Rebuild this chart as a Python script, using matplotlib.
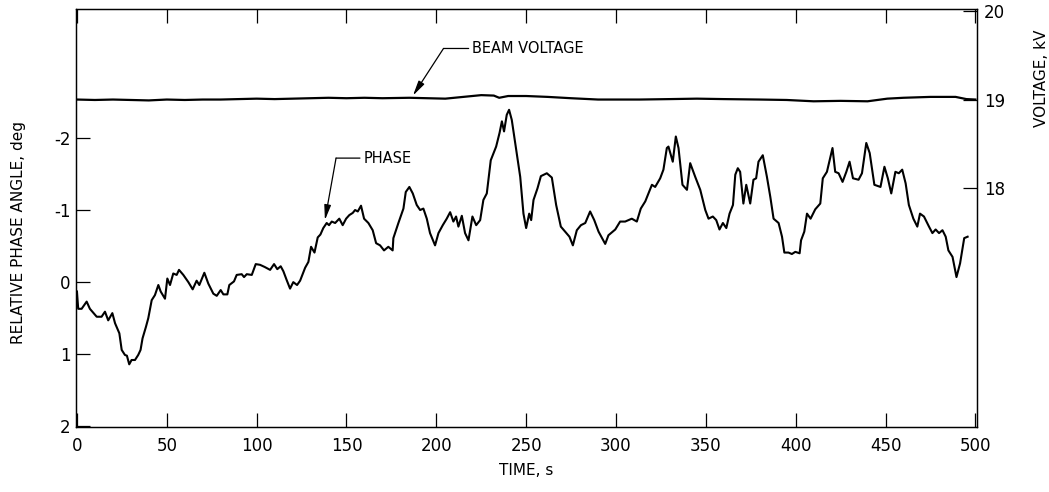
"""
plot.py

Beam voltage and relative phase angle versus time, redrawn from a scanned
strip-chart figure.
"""

import matplotlib
matplotlib.use("Agg")
import matplotlib.pyplot as plt

# --- data --------------------------------------------------------------------
time_ticks = [0, 50, 100, 150, 200, 250, 300, 350, 400, 450, 500]
phase_ticks = [-2, -1, 0, 1, 2]
voltage_ticks = [18, 19, 20]

# (time s, relative phase angle deg)
phase_trace = [
    (0, 0.13), (0.7, 0.37), (2.6, 0.37), (5.4, 0.27), (7.2, 0.37), (11, 0.48),
    (13.7, 0.48), (15.6, 0.41), (17.4, 0.53), (19.7, 0.43), (21.2, 0.57),
    (23.6, 0.71), (24.9, 0.94), (26.7, 1.01), (27.8, 1.02), (29.1, 1.14),
    (30.4, 1.08), (32.3, 1.08), (34.1, 1.01), (35.4, 0.94), (36.5, 0.78),
    (38.4, 0.62), (39.7, 0.50), (41.6, 0.25), (43.4, 0.18), (45.3, 0.04),
    (46.6, 0.13), (49, 0.23), (50.3, -0.05), (51.8, 0.04), (53.6, -0.12),
    (55.5, -0.10), (56.8, -0.17), (59.2, -0.10), (62, 0.0), (64.4, 0.10),
    (66.6, -0.02), (68.1, 0.04), (70.9, -0.13), (73.1, 0.02), (75.9, 0.16),
    (77.8, 0.19), (80, 0.11), (81.5, 0.17), (83.7, 0.17), (84.8, 0.04),
    (87.4, -0.01), (88.9, -0.10), (91.7, -0.11), (93, -0.07), (94.5, -0.11),
    (97.3, -0.10), (99.5, -0.25), (101.9, -0.24), (104.5, -0.21),
    (107.5, -0.17), (109.7, -0.25), (111.5, -0.18), (113.4, -0.22),
    (114.9, -0.15), (116.7, -0.03), (118.6, 0.09), (120.4, 0.0), (122.5, 0.04),
    (124.2, -0.02), (127, -0.20), (128.8, -0.28), (130.3, -0.49),
    (132.2, -0.41), (134, -0.62), (135.5, -0.66), (137.1, -0.75), (139, -0.82),
    (140.3, -0.79), (141.8, -0.84), (143.7, -0.82), (146, -0.88),
    (147.9, -0.79), (149.8, -0.88), (151.6, -0.93), (153.5, -0.96),
    (154.8, -1.0), (156.3, -0.98), (158.1, -1.06), (159.8, -0.88),
    (162.2, -0.82), (164.6, -0.72), (166.5, -0.54), (168.7, -0.51),
    (170.9, -0.44), (173.3, -0.49), (175.7, -0.44), (176.1, -0.61),
    (178.9, -0.82), (181.7, -1.02), (183, -1.25), (185, -1.32), (186.9, -1.23),
    (189.1, -1.07), (191, -1.0), (192.8, -1.02), (194.7, -0.88), (196.5, -0.68),
    (199.3, -0.51), (201.2, -0.68), (203.6, -0.79), (205.8, -0.88),
    (207.7, -0.97), (209.5, -0.84), (211, -0.91), (212.3, -0.77),
    (214.2, -0.92), (216, -0.68), (217.9, -0.58), (220.1, -0.91),
    (222.2, -0.79), (224.4, -0.86), (226.2, -1.14), (228.1, -1.23),
    (230.3, -1.69), (233.3, -1.88), (235.2, -2.07), (236.5, -2.23),
    (237.7, -2.09), (239.2, -2.32), (240.5, -2.39), (242, -2.25),
    (243.9, -1.93), (246.7, -1.46), (248.5, -0.95), (250, -0.75),
    (251.7, -0.95), (252.8, -0.86), (254.1, -1.14), (256.3, -1.30),
    (258.2, -1.47), (261.5, -1.51), (264.3, -1.45), (266.7, -1.07),
    (269.3, -0.77), (271.7, -0.70), (274.1, -0.63), (276, -0.51),
    (278.2, -0.72), (280.5, -0.79), (282.9, -0.82), (285.6, -0.98),
    (287.9, -0.86), (290.3, -0.70), (294, -0.53), (295.8, -0.65),
    (299.6, -0.73), (302.3, -0.84), (305.1, -0.84), (308.8, -0.88),
    (311.6, -0.84), (313.8, -1.02), (316.3, -1.12), (320, -1.35),
    (321.8, -1.32), (324.6, -1.44), (326.4, -1.56), (328.3, -1.86),
    (329.2, -1.88), (331.6, -1.67), (333.3, -2.02), (334.8, -1.86),
    (337, -1.35), (339.5, -1.28), (341.3, -1.65), (344.1, -1.46),
    (346.9, -1.28), (349.7, -1.0), (351.5, -0.88), (353.9, -0.91),
    (355.8, -0.86), (357.6, -0.73), (359.5, -0.82), (361.4, -0.75),
    (363.2, -0.95), (365.1, -1.07), (366.4, -1.49), (367.8, -1.58),
    (369.1, -1.53), (370.9, -1.09), (372.5, -1.35), (374.7, -1.09),
    (376.5, -1.42), (378, -1.44), (379.3, -1.67), (381.7, -1.76), (384, -1.46),
    (385.9, -1.18), (387.7, -0.88), (390.5, -0.82), (392.4, -0.63),
    (393.7, -0.41), (396, -0.41), (397.9, -0.39), (399.8, -0.42),
    (402.2, -0.40), (403, -0.58), (404.8, -0.70), (406.3, -0.95),
    (408.3, -0.88), (410.9, -1.01), (413.7, -1.09), (415.1, -1.44),
    (417.4, -1.53), (420.5, -1.86), (422, -1.53), (423.9, -1.51),
    (426.1, -1.39), (428.2, -1.53), (430, -1.67), (431.9, -1.44), (435, -1.42),
    (436.9, -1.51), (439.3, -1.93), (441.2, -1.79), (443.8, -1.35),
    (447.2, -1.32), (449.4, -1.60), (451.3, -1.44), (453.2, -1.23),
    (455.5, -1.53), (457.4, -1.51), (459.3, -1.56), (461.2, -1.37),
    (463, -1.07), (465.5, -0.88), (467.7, -0.77), (469.2, -0.95),
    (471.4, -0.91), (474.2, -0.77), (476.1, -0.68), (477.9, -0.73),
    (479.8, -0.68), (481.7, -0.72), (483.5, -0.63), (485, -0.44),
    (487.3, -0.35), (489.5, -0.07), (491.5, -0.26), (493.8, -0.61),
    (495.7, -0.63),
]

# (time s, beam voltage kV)
voltage_trace = [
    (0, 19.00), (10, 18.995), (20, 19.00), (30, 18.995), (40, 18.99),
    (50, 19.0), (60, 18.995), (70, 19.0), (80, 19.0), (90, 19.005),
    (100, 19.01), (110, 19.005), (120, 19.01), (130, 19.015), (140, 19.02),
    (150, 19.015), (160, 19.02), (170, 19.015), (185, 19.02), (195, 19.015),
    (205, 19.01), (215, 19.03), (225, 19.05), (232, 19.045), (235, 19.02),
    (240, 19.04), (250, 19.04), (262, 19.03), (275, 19.015), (290, 19.0),
    (313, 19.0), (330, 19.005), (345, 19.01), (360, 19.005), (380, 19.0),
    (395, 18.995), (410, 18.98), (425, 18.985), (440, 18.98), (451, 19.01),
    (460, 19.02), (475, 19.03), (489, 19.03), (495, 19.005), (500, 19.0),
]

phase_t, phase_deg = zip(*phase_trace)
volt_t, volt_kv = zip(*voltage_trace)

plt.rcParams["font.family"] = "DejaVu Sans"
plt.rcParams["axes.unicode_minus"] = False

fig = plt.figure(figsize=(10.49, 4.92), dpi=100)
ax = fig.add_axes([0.0725, 0.132, 0.859, 0.850])
ax2 = ax.twinx()

# phase angle on the left axis (inverted, -2 at top)
ax.plot(phase_t, phase_deg, color="black", linewidth=1.5)
ax.set_xlim(-0.5, 501)
ax.set_ylim(2.01, -3.79)
ax.set_xticks(time_ticks)
ax.set_yticks(phase_ticks)
ax.tick_params(axis="x", direction="in", length=10, width=0.9, pad=7,
               labelsize=12, top=True)
ax.tick_params(axis="y", direction="in", length=10, width=0.9, pad=4,
               labelsize=12)

# beam voltage on the right axis
ax2.plot(volt_t, volt_kv, color="black", linewidth=1.6)
ax2.set_ylim(15.28, 20.03)
ax2.set_yticks(voltage_ticks)
ax2.tick_params(axis="y", direction="in", length=10, width=0.9, pad=5,
                labelsize=12)

for a in (ax, ax2):
    for sp in a.spines.values():
        sp.set_linewidth(0.9)

# axis titles
ax.set_xlabel("TIME, s", fontsize=11)
ax.xaxis.set_label_coords(0.5, -0.086)
ax.text(-0.064, 0.466, "RELATIVE PHASE ANGLE, deg", transform=ax.transAxes,
        rotation=90, ha="center", va="center", fontsize=11)
ax2.text(1.071, 0.835, "VOLTAGE, kV", transform=ax2.transAxes,
         rotation=90, ha="center", va="center", fontsize=11)

# callouts
arrow = dict(arrowstyle="-|>,head_length=0.9,head_width=0.2",
             color="black", linewidth=0.9, shrinkA=0, shrinkB=0)
leader = dict(arrowstyle="-", color="black", linewidth=0.9,
              shrinkA=0, shrinkB=0)

ax2.annotate("", xy=(187, 19.045), xytext=(204, 19.58), arrowprops=arrow)
ax2.annotate("", xy=(204, 19.58), xytext=(218, 19.58), arrowprops=leader)
ax2.text(220, 19.58, "BEAM VOLTAGE", ha="left", va="center", fontsize=10.5)

ax.annotate("", xy=(138, -0.86), xytext=(144.2, -1.72), arrowprops=arrow)
ax.annotate("", xy=(144.2, -1.72), xytext=(157.5, -1.72), arrowprops=leader)
ax.text(159.8, -1.72, "PHASE", ha="left", va="center", fontsize=10.5)

fig.savefig("out.png", dpi=100)
plt.close(fig)
